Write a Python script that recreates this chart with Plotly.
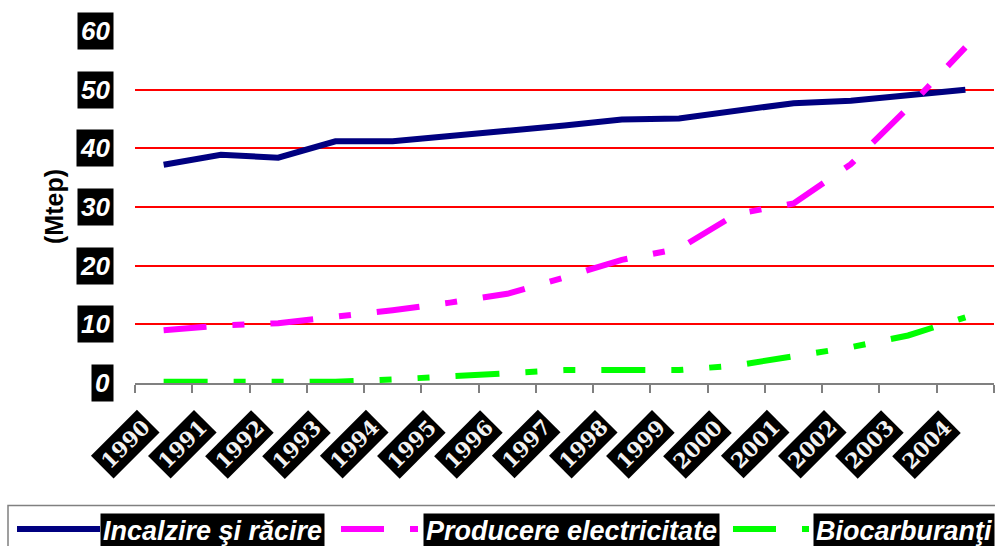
import plotly.graph_objects as go

# Categories and series (Mtep)
years = ["1990", "1991", "1992", "1993", "1994", "1995", "1996", "1997",
         "1998", "1999", "2000", "2001", "2002", "2003", "2004"]
incalzire = [37.2, 38.9, 38.4, 41.2, 41.2, 42.2, 43.0, 43.9, 44.9, 45.1,
             46.3, 47.7, 48.1, 49.1, 50.0]
electricitate = [9.0, 9.8, 10.2, 11.2, 12.4, 13.7, 15.2, 18.0, 21.0, 22.9,
                 28.8, 30.6, 37.3, 46.9, 57.2]
biocarburanti = [0.2, 0.2, 0.2, 0.2, 0.6, 1.05, 1.7, 2.2, 2.2, 2.2,
                 3.0, 4.5, 6.1, 8.1, 11.2]
y_ticks = [0, 10, 20, 30, 40, 50, 60]
series_names = ["Incalzire şi răcire", "Producere electricitate", "Biocarburanţi"]
axis_title = "(Mtep)"

W_FIG, H_FIG = 995, 546
L, T, W, H = 135, 31, 859, 352

NAVY = "#000080"
MAGENTA = "#ff00ff"
GREEN = "#00ff00"
DASH_DOT = "43px,26px,12px,26px"
DASH_DOT_DOT = "44px,26px,12px,26px,12px,26px"
SANS = "Liberation Sans, Arial, sans-serif"
SERIF = "DejaVu Serif, serif"


def px(x):
    return (x - L) / W


def py(y):
    return (T + H - y) / H


fig = go.Figure()
fig.add_trace(go.Scatter(x=years, y=incalzire, mode="lines", name=series_names[0],
                         line=dict(color=NAVY, width=6)))
fig.add_trace(go.Scatter(x=years, y=electricitate, mode="lines", name=series_names[1],
                         line=dict(color=MAGENTA, width=6, dash=DASH_DOT)))
fig.add_trace(go.Scatter(x=years, y=biocarburanti, mode="lines", name=series_names[2],
                         line=dict(color=GREEN, width=6, dash=DASH_DOT_DOT)))

annotations = []
# y tick labels: white bold italic on black boxes
for v in y_ticks:
    annotations.append(dict(
        x=0, xref="paper", y=v, yref="y", xanchor="right", yanchor="middle",
        xshift=-21, text=f"<b><i>{v}</i></b>", showarrow=False,
        font=dict(family=SANS, size=26, color="white"),
        bgcolor="black", borderpad=3))

# rotated year labels on black boxes (category index positions)
for i, yr in enumerate(years):
    annotations.append(dict(
        x=i, xref="x", y=0, yref="y", xanchor="center", yanchor="middle",
        xshift=-39, yshift=-61, textangle=-45, text=f"<b>{yr}</b>",
        showarrow=False, font=dict(family=SERIF, size=21, color="#f2f2f2"),
        bgcolor="black", borderpad=3))

# axis title
annotations.append(dict(
    x=px(54), xref="paper", y=py(207), yref="paper", xanchor="center",
    yanchor="middle", textangle=-90, text=f"<b>{axis_title}</b>",
    showarrow=False, font=dict(family=SANS, size=25, color="black")))

# legend labels
legend_text_x = [100, 423, 813]
for name, lx in zip(series_names, legend_text_x):
    annotations.append(dict(
        x=px(lx), xref="paper", y=py(512.5), yref="paper", xanchor="left",
        yanchor="top", text=f"<b><i>{name}</i></b>", showarrow=False,
        font=dict(family=SANS, size=27, color="white"),
        bgcolor="black", borderpad=2))

shapes = [
    # legend frame
    dict(type="rect", xref="paper", yref="paper", x0=px(8), x1=px(1005),
         y0=py(505.5), y1=py(560), line=dict(color="#808080", width=1.5)),
    # legend samples
    dict(type="line", xref="paper", yref="paper", x0=px(17), x1=px(100),
         y0=py(529), y1=py(529), line=dict(color=NAVY, width=6)),
    dict(type="line", xref="paper", yref="paper", x0=px(341), x1=px(418),
         y0=py(529), y1=py(529), line=dict(color=MAGENTA, width=6, dash=DASH_DOT)),
    dict(type="line", xref="paper", yref="paper", x0=px(733), x1=px(809),
         y0=py(529), y1=py(529), line=dict(color=GREEN, width=6, dash=DASH_DOT)),
]

fig.update_layout(
    width=W_FIG, height=H_FIG,
    margin=dict(l=L, r=W_FIG - L - W, t=T, b=H_FIG - T - H, autoexpand=False),
    paper_bgcolor="white", plot_bgcolor="white",
    showlegend=False,
    annotations=annotations, shapes=shapes,
    xaxis=dict(type="category", categoryorder="array", categoryarray=years,
               range=[-0.5, len(years) - 0.5], showgrid=False, zeroline=False,
               showline=True, linecolor="#808080", linewidth=1.5,
               ticks="outside", tickson="boundaries", ticklen=8,
               tickcolor="#808080", tickwidth=1.5, showticklabels=False,
               automargin=False),
    yaxis=dict(range=[0, 60], tickvals=y_ticks, showgrid=True,
               gridcolor="#ff0000", gridwidth=1.5, zeroline=False,
               showline=False, ticks="", showticklabels=False,
               automargin=False),
)

fig.write_html("out.html")
